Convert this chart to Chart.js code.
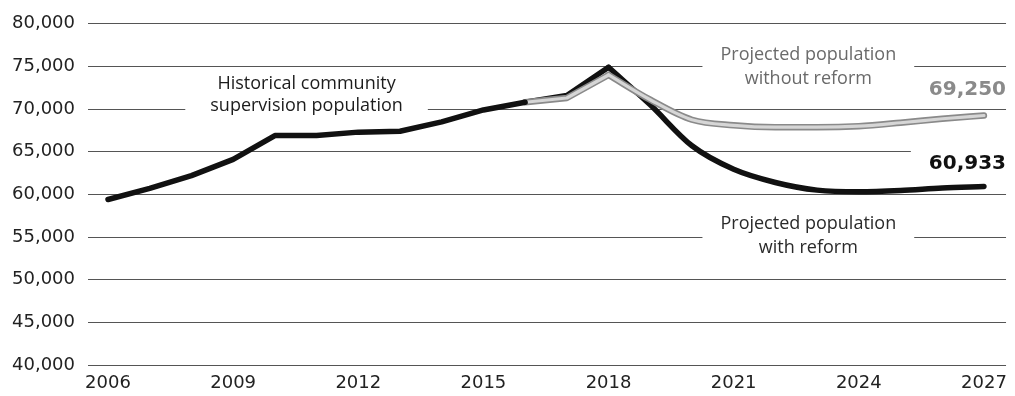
<!DOCTYPE html>
<html>
<head>
<meta charset="utf-8">
<script src="https://cdn.jsdelivr.net/npm/chart.js@4.4.1/dist/chart.umd.min.js"></script>
<style>
  html, body { margin: 0; padding: 0; background: #fff; }
  #wrap { width: 1015px; height: 396px; }
</style>
</head>
<body>
<div id="wrap"><canvas id="chart" width="1015" height="396"></canvas></div>
<script>
// Community supervision population: history and two projections
const historyYears = [2006, 2007, 2008, 2009, 2010, 2011, 2012, 2013, 2014, 2015, 2016];
const historyPop   = [59400, 60700, 62200, 64100, 66900, 66900, 67300, 67400, 68500, 69900, 70800];

const projYears     = [2016, 2017, 2018, 2019, 2020, 2021, 2022, 2023, 2024, 2025, 2026, 2027];
const withReform    = [70800, 71600, 74900, 70500, 65700, 62950, 61400, 60500, 60300, 60450, 60750, 60933];
const withoutReform = [70800, 71300, 74000, 71100, 68750, 68100, 67880, 67880, 68000, 68400, 68870, 69250];

const xTickYears = [2006, 2009, 2012, 2015, 2018, 2021, 2024, 2027];
const yTickValues = [40000, 45000, 50000, 55000, 60000, 65000, 70000, 75000, 80000];

const fmt = v => v.toLocaleString('en-US');
const toPoints = (xs, ys) => xs.map((x, i) => ({ x, y: ys[i] }));

// split projections at the 2018 peak so the corner stays sharp
const peak = projYears.indexOf(2018);
const rising = vals => toPoints(projYears.slice(0, peak + 1), vals.slice(0, peak + 1));
const falling = vals => toPoints(projYears.slice(peak), vals.slice(peak));

function line(data, color, width, order, smooth) {
  return {
    data,
    borderColor: color,
    borderWidth: width,
    borderCapStyle: 'round',
    borderJoinStyle: 'round',
    cubicInterpolationMode: smooth ? 'monotone' : 'default',
    tension: 0,
    pointRadius: 0,
    fill: false,
    order
  };
}

const notes = {
  id: 'notes',
  beforeDatasetsDraw(chart, args, opts) {
    const { ctx, chartArea, scales: { x, y } } = chart;
    ctx.save();
    for (const n of opts.items) {
      ctx.font = n.font;
      const ax = n.year != null ? x.getPixelForValue(n.year) : chartArea.right;
      const base = y.getPixelForValue(n.value);
      const w = Math.max(...n.lines.map(t => ctx.measureText(t).width));
      const x0 = n.align === 'right' ? ax - w : ax - w / 2;
      if (n.box) {
        const [padX, padTop, padBottom] = n.box;
        ctx.fillStyle = '#fff';
        ctx.fillRect(x0 - padX, base - padTop, w + padX * 2,
          (n.lines.length - 1) * n.lead + padTop + padBottom);
      }
      ctx.fillStyle = n.color;
      ctx.textAlign = n.align || 'center';
      ctx.textBaseline = 'alphabetic';
      n.lines.forEach((t, i) => ctx.fillText(t, ax, base + i * n.lead));
    }
    ctx.restore();
  }
};

const textFont = "18px 'Open Sans'";
const valueFont = "bold 20px 'DejaVu Sans'";

new Chart(document.getElementById('chart'), {
  type: 'line',
  data: {
    datasets: [
      line(toPoints(historyYears, historyPop), '#111', 5.5, 0, false),
      line(rising(withoutReform), '#d6d6d6', 3.2, 1, false),
      line(falling(withoutReform), '#d6d6d6', 3.2, 1, true),
      line(rising(withoutReform), '#8a8a8a', 6.5, 2, false),
      line(falling(withoutReform), '#8a8a8a', 6.5, 2, true),
      line(rising(withReform), '#111', 5.5, 3, false),
      line(falling(withReform), '#111', 5.5, 3, true)
    ]
  },
  plugins: [notes],
  options: {
    responsive: false,
    animation: false,
    devicePixelRatio: 1,
    layout: { padding: { top: 20, right: 7, bottom: 0, left: 0 } },
    plugins: {
      legend: { display: false },
      tooltip: { enabled: false },
      notes: {
        items: [
          { lines: ['Historical community', 'supervision population'], year: 2010.76, value: 72300,
            lead: 22, font: textFont, color: '#1c1c1c', box: [25, 20, 9] },
          { lines: ['Projected population', 'without reform'], year: 2022.79, value: 75750,
            lead: 24, font: textFont, color: '#6a6a6a', box: [18, 20, 8] },
          { lines: ['Projected population', 'with reform'], year: 2022.79, value: 55950,
            lead: 24, font: textFont, color: '#2a2a2a', box: [18, 20, 8] },
          { lines: [fmt(withoutReform[withoutReform.length - 1])], value: 71710, align: 'right',
            lead: 0, font: valueFont, color: '#8a8a8a', box: null },
          { lines: [fmt(withReform[withReform.length - 1])], value: 62960, align: 'right',
            lead: 0, font: valueFont, color: '#111', box: [18, 22, 5] }
        ]
      }
    },
    scales: {
      x: {
        type: 'linear',
        min: 2005.52,
        max: 2027.53,
        afterBuildTicks: s => { s.ticks = xTickYears.map(v => ({ value: v })); },
        afterFit: s => { s.height = 31; },
        grid: { display: false, drawTicks: false },
        border: { display: false },
        ticks: {
          autoSkip: false,
          maxRotation: 0,
          padding: 8,
          color: '#222',
          font: { family: 'DejaVu Sans', size: 18 },
          callback: v => String(v)
        }
      },
      y: {
        min: 40000,
        max: 80000,
        afterBuildTicks: s => { s.ticks = yTickValues.map(v => ({ value: v })); },
        afterFit: s => { s.width = 88; },
        grid: { color: '#555', lineWidth: 1, drawTicks: false },
        border: { display: false },
        ticks: {
          padding: 13,
          color: '#222',
          font: { family: 'DejaVu Sans', size: 18 },
          callback: v => fmt(v)
        }
      }
    }
  }
});
</script>
</body>
</html>
